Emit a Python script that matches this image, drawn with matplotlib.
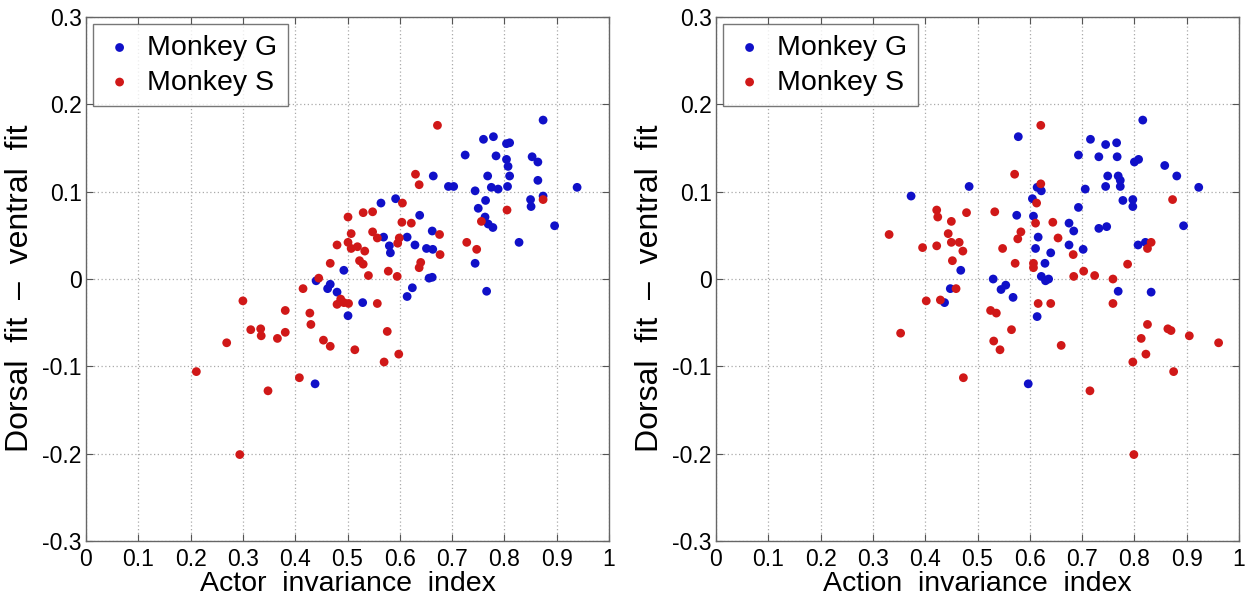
import matplotlib
matplotlib.use("Agg")
import matplotlib.pyplot as plt
import numpy as np

plt.rcParams['font.family'] = ['Liberation Sans', 'DejaVu Sans']

# ---- Left panel: Actor invariance index ----
actor_G_x = [0.874, 0.760, 0.779, 0.804, 0.810, 0.725, 0.784, 0.853, 0.804, 0.864,
             0.807, 0.664, 0.768, 0.810, 0.864, 0.693, 0.703, 0.775, 0.788, 0.806,
             0.744, 0.939, 0.592, 0.764, 0.850, 0.874, 0.564, 0.750, 0.851, 0.763,
             0.638, 0.769, 0.778, 0.896, 0.569, 0.614, 0.662, 0.828, 0.580, 0.629,
             0.582, 0.651, 0.663, 0.744, 0.493, 0.656, 0.662, 0.440, 0.467, 0.462,
             0.480, 0.624, 0.614, 0.766, 0.529, 0.501, 0.438]
actor_G_y = [0.182, 0.160, 0.163, 0.155, 0.156, 0.142, 0.141, 0.140, 0.137, 0.134,
             0.129, 0.118, 0.118, 0.118, 0.113, 0.106, 0.106, 0.105, 0.103, 0.106,
             0.101, 0.105, 0.092, 0.090, 0.091, 0.095, 0.087, 0.081, 0.083, 0.071,
             0.073, 0.063, 0.059, 0.061, 0.048, 0.048, 0.055, 0.042, 0.038, 0.039,
             0.030, 0.035, 0.034, 0.018, 0.010, 0.001, 0.002, -0.002, -0.006, -0.011,
             -0.015, -0.010, -0.020, -0.014, -0.027, -0.042, -0.120]

actor_S_x = [0.672, 0.630, 0.637, 0.605, 0.530, 0.548, 0.501, 0.805, 0.874, 0.604,
             0.622, 0.756, 0.507, 0.548, 0.557, 0.676, 0.599, 0.596, 0.480, 0.501,
             0.507, 0.519, 0.533, 0.728, 0.747, 0.677, 0.467, 0.523, 0.530, 0.640,
             0.637, 0.540, 0.578, 0.595, 0.445, 0.415, 0.300, 0.487, 0.480, 0.493,
             0.502, 0.557, 0.381, 0.428, 0.430, 0.315, 0.334, 0.335, 0.366, 0.381,
             0.269, 0.454, 0.467, 0.514, 0.576, 0.598, 0.570, 0.211, 0.408, 0.348,
             0.294]
actor_S_y = [0.176, 0.120, 0.108, 0.087, 0.076, 0.077, 0.071, 0.079, 0.091, 0.065,
             0.064, 0.066, 0.052, 0.054, 0.047, 0.051, 0.047, 0.041, 0.039, 0.042,
             0.035, 0.037, 0.032, 0.042, 0.034, 0.028, 0.018, 0.021, 0.017, 0.019,
             0.013, 0.004, 0.009, 0.003, 0.001, -0.011, -0.025, -0.023, -0.029, -0.027,
             -0.028, -0.028, -0.036, -0.039, -0.052, -0.058, -0.057, -0.065, -0.068, -0.061,
             -0.073, -0.070, -0.077, -0.081, -0.060, -0.086, -0.095, -0.106, -0.113, -0.128,
             -0.201]

# ---- Right panel: Action invariance index ----
action_G_x = [0.816, 0.578, 0.716, 0.745, 0.766, 0.693, 0.732, 0.767, 0.800, 0.808,
              0.858, 0.749, 0.769, 0.773, 0.881, 0.484, 0.614, 0.622, 0.706, 0.745,
              0.773, 0.923, 0.373, 0.605, 0.778, 0.797, 0.797, 0.693, 0.575, 0.607,
              0.675, 0.684, 0.732, 0.747, 0.894, 0.616, 0.611, 0.675, 0.702, 0.640,
              0.807, 0.821, 0.629, 0.468, 0.530, 0.622, 0.630, 0.636, 0.554, 0.545,
              0.448, 0.568, 0.769, 0.832, 0.437, 0.614, 0.597]
action_G_y = [0.182, 0.163, 0.160, 0.154, 0.156, 0.142, 0.140, 0.140, 0.134, 0.137,
              0.130, 0.118, 0.118, 0.113, 0.118, 0.106, 0.105, 0.101, 0.103, 0.106,
              0.106, 0.105, 0.095, 0.092, 0.090, 0.091, 0.083, 0.082, 0.073, 0.072,
              0.064, 0.055, 0.058, 0.060, 0.061, 0.048, 0.035, 0.039, 0.034, 0.030,
              0.039, 0.042, 0.018, 0.010, 0.000, 0.003, -0.002, 0.000, -0.007, -0.012,
              -0.011, -0.021, -0.014, -0.015, -0.027, -0.043, -0.120]

action_S_x = [0.621, 0.571, 0.621, 0.613, 0.422, 0.424, 0.533, 0.479, 0.450, 0.611,
              0.644, 0.873, 0.331, 0.444, 0.583, 0.577, 0.654, 0.450, 0.465, 0.395,
              0.422, 0.472, 0.548, 0.825, 0.832, 0.452, 0.572, 0.607, 0.607, 0.683,
              0.787, 0.684, 0.703, 0.724, 0.759, 0.459, 0.402, 0.429, 0.616, 0.640,
              0.759, 0.525, 0.536, 0.825, 0.565, 0.864, 0.870, 0.353, 0.905, 0.813,
              0.961, 0.531, 0.543, 0.660, 0.822, 0.797, 0.875, 0.473, 0.715, 0.799]
action_S_y = [0.176, 0.120, 0.109, 0.087, 0.079, 0.071, 0.077, 0.076, 0.066, 0.064,
              0.065, 0.091, 0.051, 0.052, 0.054, 0.046, 0.047, 0.042, 0.042, 0.036,
              0.038, 0.032, 0.035, 0.035, 0.042, 0.021, 0.018, 0.018, 0.013, 0.028,
              0.017, 0.003, 0.009, 0.004, 0.000, -0.011, -0.025, -0.024, -0.028, -0.028,
              -0.028, -0.036, -0.039, -0.052, -0.058, -0.057, -0.059, -0.062, -0.065, -0.068,
              -0.073, -0.071, -0.081, -0.076, -0.086, -0.095, -0.106, -0.113, -0.128, -0.201]

x_ticks = [0, 0.1, 0.2, 0.3, 0.4, 0.5, 0.6, 0.7, 0.8, 0.9, 1]
x_tick_labels = ['0', '0.1', '0.2', '0.3', '0.4', '0.5', '0.6', '0.7', '0.8', '0.9', '1']
y_ticks = [-0.3, -0.2, -0.1, 0, 0.1, 0.2, 0.3]
y_tick_labels = ['-0.3', '-0.2', '-0.1', '0', '0.1', '0.2', '0.3']

blue = '#1010c8'
red = '#d01818'

fig = plt.figure(figsize=(12.5, 6), dpi=100)
ax1 = fig.add_axes([0.0688, 0.0983, 0.4184, 0.8733])
ax2 = fig.add_axes([0.5728, 0.0983, 0.4184, 0.8733])

panels = [
    (ax1, actor_G_x, actor_G_y, actor_S_x, actor_S_y, 'Actor  invariance  index'),
    (ax2, action_G_x, action_G_y, action_S_x, action_S_y, 'Action  invariance  index'),
]

for ax, gx, gy, sx, sy, xl in panels:
    ax.scatter(gx, gy, s=40, color=blue, edgecolors='none', label='Monkey G', zorder=3)
    ax.scatter(sx, sy, s=40, color=red, edgecolors='none', label='Monkey S', zorder=3)
    ax.set_xlim(0, 1)
    ax.set_ylim(-0.3, 0.3)
    ax.set_xticks(x_ticks)
    ax.set_xticklabels(x_tick_labels)
    ax.set_yticks(y_ticks)
    ax.set_yticklabels(y_tick_labels)
    ax.tick_params(direction='in', length=5, width=0.8, top=True, right=True,
                   labelsize=16.5, color='#555555')
    ax.tick_params(axis='x', pad=5)
    ax.tick_params(axis='y', pad=3)
    ax.grid(True, linestyle=(0, (1, 2)), color='#aaaaaa', linewidth=0.9)
    ax.set_axisbelow(True)
    for sp in ax.spines.values():
        sp.set_color('#666666')
        sp.set_linewidth(1.0)
    ax.set_xlabel(xl, fontsize=20.5, labelpad=0)
    ax.set_ylabel('Dorsal  fit  \u2013  ventral  fit', fontsize=23)
    ax.yaxis.set_label_coords(-0.097, 0.483)
    leg = ax.legend(loc='upper left', fontsize=20.5, frameon=True, fancybox=False,
                    edgecolor='#555555', borderpad=0.38, handletextpad=0.4,
                    labelspacing=0.3, markerscale=1.0, borderaxespad=0.25,
                    handlelength=1.1)
    leg.get_frame().set_linewidth(1.0)

fig.savefig('out.png', dpi=100)
